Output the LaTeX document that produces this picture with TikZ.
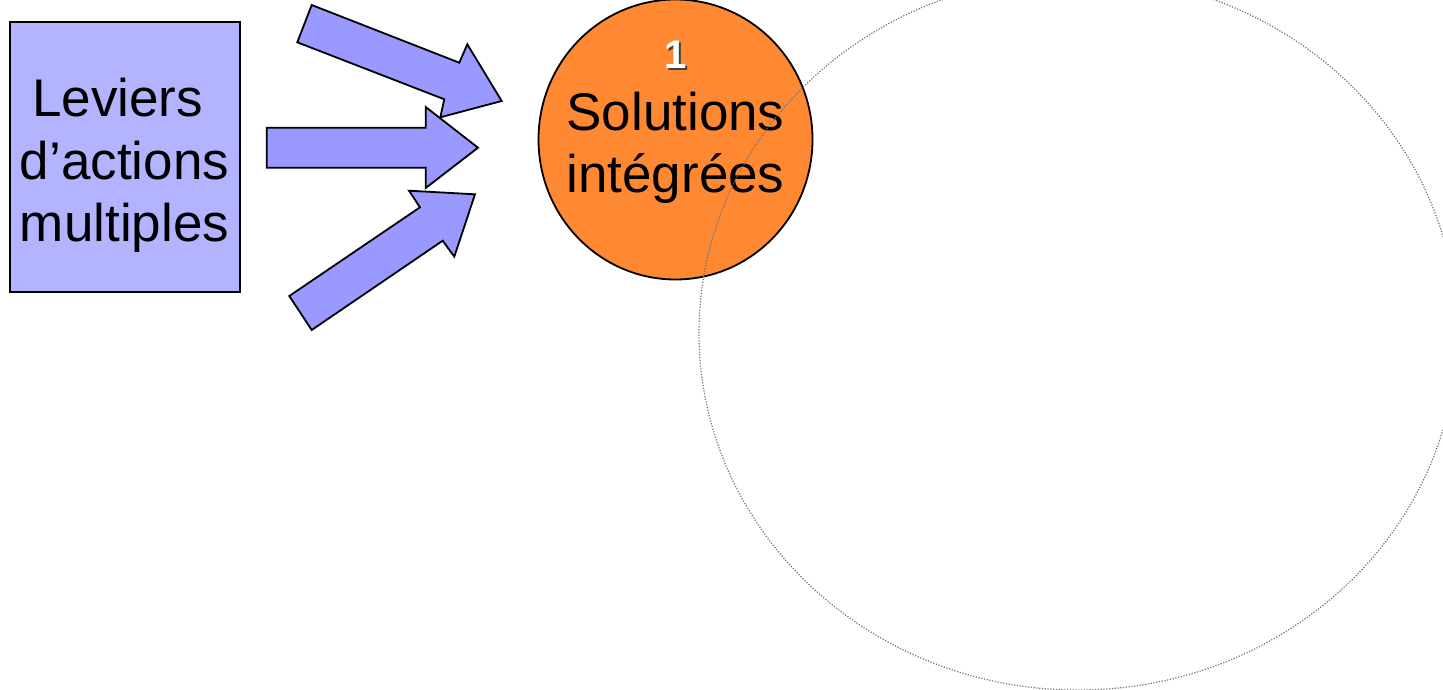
\documentclass[tikz,border=0pt]{standalone}
\usepackage{fontspec}
\setmainfont{Liberation Sans}
\usetikzlibrary{shapes.geometric}
\definecolor{boxfill}{RGB}{179,179,255}
\definecolor{arrowfill}{RGB}{153,153,255}
\definecolor{orangefill}{RGB}{255,136,51}
\begin{document}
\begin{tikzpicture}[x=1pt,y=-1pt,
  bigtext/.style={anchor=base,inner sep=0pt,font=\fontsize{53}{62}\selectfont},
  fatarrow/.style={draw=black,line width=1.8pt,fill=arrowfill,line join=miter},
]
\useasboundingbox (0,0) rectangle (1443,690);
% box
\node[draw=black,line width=1.8pt,fill=boxfill,minimum width=230pt,minimum height=270pt,inner sep=0pt] (box) at (125,157) {};
\node[bigtext] (l1) at (117.5,117) {Leviers};
\node[bigtext] (l2) at (124.5,179) {d’actions};
\node[bigtext] (l3) at (124.5,241) {multiples};
% arrows
\draw[fatarrow] (311.7,5) -- (459.3,62.7) -- (467.3,44.3) -- (501.7,101) -- (440.3,117.3) -- (444.3,99.3) -- (297.3,42.3) -- cycle;
\draw[fatarrow] (266.7,127.7) -- (425.7,127.7) -- (425.7,107) -- (478,147.7) -- (425.7,188) -- (425.7,167.7) -- (266.7,167.7) -- cycle;
\draw[fatarrow] (289.3,296) -- (420,207.3) -- (409,190.7) -- (475,194.3) -- (454.3,256.7) -- (442.7,240.7) -- (311.7,330) -- cycle;
% orange circle
\node[draw=black,line width=1.8pt,fill=orangefill,ellipse,minimum width=274pt,minimum height=280pt,inner sep=0pt] (sol) at (675.5,139.5) {};
\node[anchor=base,inner sep=0pt,font=\fontsize{40}{48}\selectfont\bfseries,text=black!75] (ones) at (677.5,71) {1};
\node[anchor=base,inner sep=0pt,font=\fontsize{40}{48}\selectfont\bfseries,text=white] (one) at (675.5,69) {1};
\node[bigtext] (s1) at (675.5,131) {Solutions};
\node[bigtext] (s2) at (675.5,193) {intégrées};
% dotted ellipse
\draw[black!55,line width=1.2pt,dash pattern=on 1.2pt off 1.6pt] (1078,333) ellipse [x radius=379, y radius=357];
\end{tikzpicture}
\end{document}
